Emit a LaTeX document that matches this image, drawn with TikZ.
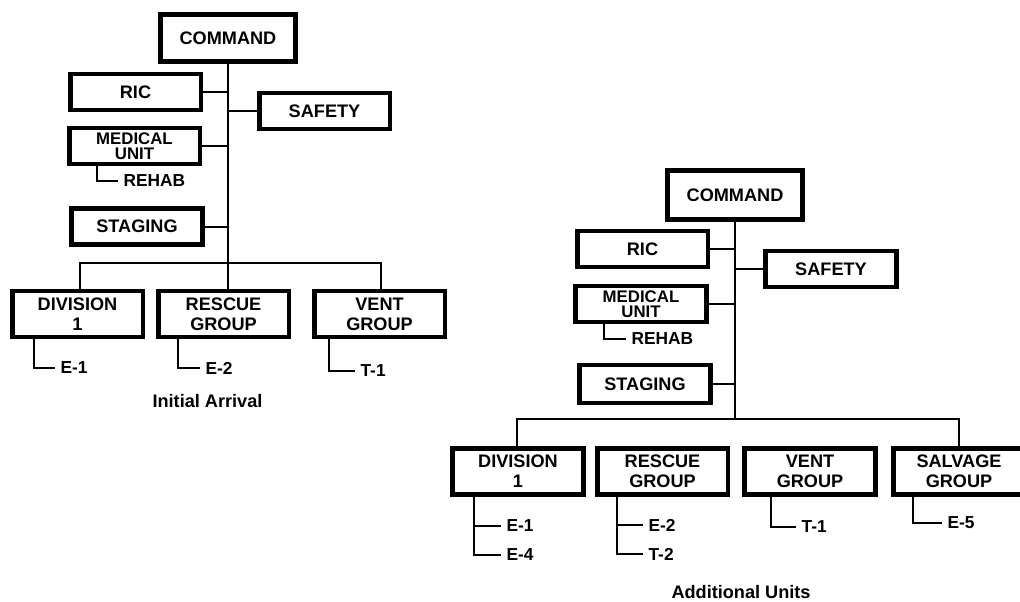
\documentclass[tikz,border=0pt]{standalone}
\usepackage{fontspec}
\setmainfont{Liberation Sans}
\begin{document}
\begin{tikzpicture}
% ICS organisation charts: initial arrival and additional units
\def\pxsz{0.75pt}
\providecommand{\icsLineColor}{black}
\providecommand{\icsBoxLineWidth}{3.5pt}
\providecommand{\icsLinkLineWidth}{1.5pt}
\providecommand{\icsBoxFont}{\bfseries\fontsize{13.6}{15}\selectfont}
\providecommand{\icsSmallFont}{\bfseries\fontsize{12.6}{11.2}\selectfont}
\providecommand{\icsLabelFont}{\bfseries\fontsize{13}{15}\selectfont}
\begin{scope}[x=\pxsz, y=-\pxsz, line join=miter,
  cmdbox/.style={draw=\icsLineColor, line width=\icsBoxLineWidth, inner sep=0pt,
    align=center, font=\icsBoxFont, minimum width=101.5pt, minimum height=35.5pt},
  staffbox/.style={draw=\icsLineColor, line width=\icsBoxLineWidth, inner sep=0pt,
    align=center, font=\icsBoxFont, minimum width=98pt, minimum height=27pt},
  unitbox/.style={draw=\icsLineColor, line width=\icsBoxLineWidth, inner sep=0pt,
    align=center, font=\icsBoxFont, minimum width=98pt, minimum height=34.5pt},
  sublabel/.style={anchor=west, inner xsep=4pt, inner ysep=0pt, font=\icsLabelFont},
  caption/.style={inner sep=0pt, font=\icsBoxFont},
  link/.style={draw=\icsLineColor, line width=\icsLinkLineWidth}]
  % Page frame (the salvage box runs off the right edge)
  \clip (0,0) rectangle (1020,601);
  % Left chart: initial arrival
  \node[cmdbox] (cmdA) at (228,38) {COMMAND};
  \node[staffbox] (ricA) at (135.5,92) {RIC};
  \node[staffbox] (safA) at (324.5,111) {SAFETY};
  \node[staffbox, font=\icsSmallFont] (medA) at (134.5,146) {MEDICAL\\UNIT};
  \node[staffbox] (stgA) at (137,226.5) {STAGING};
  \node[unitbox] (divA) at (77.5,314) {DIVISION\\1};
  \node[unitbox] (resA) at (223.5,314) {RESCUE\\GROUP};
  \node[unitbox] (venA) at (379.5,314) {VENT\\GROUP};
  \node[sublabel] (rehA) at (118,181) {REHAB};
  \node[sublabel] (e1A) at (55,368) {E-1};
  \node[sublabel] (e2A) at (200,368) {E-2};
  \node[sublabel] (t1A) at (355,371) {T-1};
  \node[caption] (capA) at (207.5,401.5) {Initial Arrival};
  \coordinate (barAl) at (80,263);
  \coordinate (barAr) at (381,263);
  \coordinate (stemMedA) at (97,181);
  \coordinate (stemDivA) at (34,368);
  \coordinate (stemResA) at (178,368);
  \coordinate (stemVenA) at (329,371);
  \begin{scope}[link]
    \draw (cmdA.south) -- (cmdA.south |- resA.north);
    \draw (ricA.east) -- (ricA.east -| cmdA.south);
    \draw (safA.west) -- (safA.west -| cmdA.south);
    \draw (medA.east) -- (medA.east -| cmdA.south);
    \draw (stgA.east) -- (stgA.east -| cmdA.south);
    \draw (divA.north -| barAl) -- (barAl) -- (barAr) -- (venA.north -| barAr);
    \draw (medA.south -| stemMedA) |- (rehA.west);
    \draw (divA.south -| stemDivA) |- (e1A.west);
    \draw (resA.south -| stemResA) |- (e2A.west);
    \draw (venA.south -| stemVenA) |- (t1A.west);
  \end{scope}
  % Right chart: additional units
  \node[cmdbox, minimum height=37pt] (cmdB) at (735,195) {COMMAND};
  \node[staffbox] (ricB) at (642.5,249) {RIC};
  \node[staffbox] (safB) at (831,269) {SAFETY};
  \node[staffbox, font=\icsSmallFont] (medB) at (641,304) {MEDICAL\\UNIT};
  \node[staffbox, minimum height=28.5pt] (stgB) at (645,384) {STAGING};
  \node[unitbox] (divB) at (518,471.5) {DIVISION\\1};
  \node[unitbox] (resB) at (662.5,471.5) {RESCUE\\GROUP};
  \node[unitbox] (venB) at (810,471.5) {VENT\\GROUP};
  \node[unitbox] (salB) at (959,471.5) {SALVAGE\\GROUP};
  \node[sublabel] (rehB) at (626,339) {REHAB};
  \node[sublabel] (e1B) at (501,526) {E-1};
  \node[sublabel] (e4B) at (501,555) {E-4};
  \node[sublabel] (e2B) at (643,525) {E-2};
  \node[sublabel] (t2B) at (643,554) {T-2};
  \node[sublabel] (t1B) at (796,527) {T-1};
  \node[sublabel] (e5B) at (942,523) {E-5};
  \node[caption] (capB) at (741,592) {Additional Units};
  \coordinate (barBl) at (517,419);
  \coordinate (barBr) at (959,419);
  \coordinate (stemMedB) at (604,339);
  \coordinate (stemDivB) at (474,555);
  \coordinate (stemResB) at (617,554);
  \coordinate (stemVenB) at (771,527);
  \coordinate (stemSalB) at (913,523);
  \begin{scope}[link]
    \draw (cmdB.south) -- (cmdB.south |- barBl);
    \draw (ricB.east) -- (ricB.east -| cmdB.south);
    \draw (safB.west) -- (safB.west -| cmdB.south);
    \draw (medB.east) -- (medB.east -| cmdB.south);
    \draw (stgB.east) -- (stgB.east -| cmdB.south);
    \draw (divB.north -| barBl) -- (barBl) -- (barBr) -- (salB.north -| barBr);
    \draw (medB.south -| stemMedB) |- (rehB.west);
    \draw (divB.south -| stemDivB) |- (e4B.west);
    \draw (e1B.west -| stemDivB) -- (e1B.west);
    \draw (resB.south -| stemResB) |- (t2B.west);
    \draw (e2B.west -| stemResB) -- (e2B.west);
    \draw (venB.south -| stemVenB) |- (t1B.west);
    \draw (salB.south -| stemSalB) |- (e5B.west);
  \end{scope}
\end{scope}
\end{tikzpicture}
\end{document}
